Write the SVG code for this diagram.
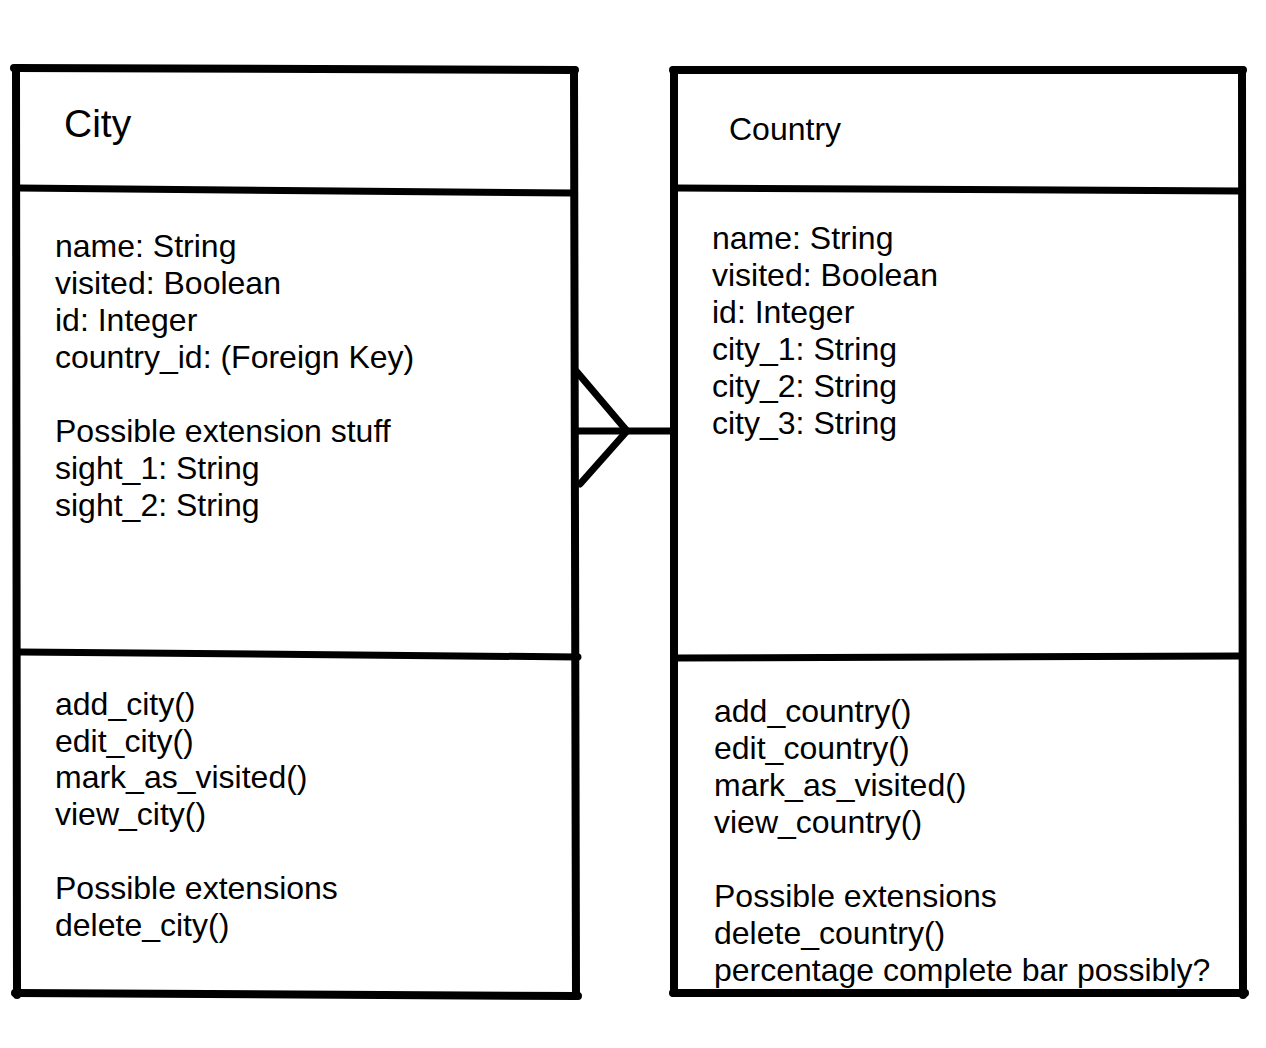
<svg xmlns="http://www.w3.org/2000/svg" width="1266" height="1048" viewBox="0 0 1266 1048">
<style>
.ln{stroke:#000;stroke-width:8;stroke-linecap:round;fill:none}
.dv{stroke:#000;stroke-width:7;stroke-linecap:round;fill:none}
.t{font-family:"Liberation Sans",Arial,Helvetica,sans-serif;font-size:32px;fill:#000}
.h{font-family:"Liberation Sans",Arial,Helvetica,sans-serif;fill:#000}
</style>
<rect width="1266" height="1048" fill="#fff"/>
<g id="city">
<path class="ln" d="M14 68 L575 70"/>
<path class="ln" d="M16 68 L17 995"/>
<path class="ln" d="M574 70 L576 996"/>
<path class="ln" d="M15 993 L578 996"/>
<path class="dv" d="M18 188 L572 193"/>
<path class="dv" d="M20 652 L578 657"/>
<text class="h" x="64" y="137" font-size="39">City</text>
<text class="t" x="55" y="257">name: String</text>
<text class="t" x="55" y="294">visited: Boolean</text>
<text class="t" x="55" y="331">id: Integer</text>
<text class="t" x="55" y="368">country_id: (Foreign Key)</text>
<text class="t" x="55" y="442">Possible extension stuff</text>
<text class="t" x="55" y="479">sight_1: String</text>
<text class="t" x="55" y="516">sight_2: String</text>
<text class="t" x="55" y="715">add_city()</text>
<text class="t" x="55" y="752">edit_city()</text>
<text class="t" x="55" y="788">mark_as_visited()</text>
<text class="t" x="55" y="825">view_city()</text>
<text class="t" x="55" y="899">Possible extensions</text>
<text class="t" x="55" y="936">delete_city()</text>
</g>
<g id="country">
<path class="ln" d="M673 70 L1243 70"/>
<path class="ln" d="M674 70 L674 993"/>
<path class="ln" d="M1242 70 L1243 995"/>
<path class="ln" d="M673 993 L1245 993"/>
<path class="dv" d="M676 188 L1240 191"/>
<path class="dv" d="M678 658 L1240 656"/>
<text class="h" x="729" y="140" font-size="32">Country</text>
<text class="t" x="712" y="249">name: String</text>
<text class="t" x="712" y="286">visited: Boolean</text>
<text class="t" x="712" y="323">id: Integer</text>
<text class="t" x="712" y="360">city_1: String</text>
<text class="t" x="712" y="397">city_2: String</text>
<text class="t" x="712" y="434">city_3: String</text>
<text class="t" x="714" y="722">add_country()</text>
<text class="t" x="714" y="759">edit_country()</text>
<text class="t" x="714" y="796">mark_as_visited()</text>
<text class="t" x="714" y="833">view_country()</text>
<text class="t" x="714" y="907">Possible extensions</text>
<text class="t" x="714" y="944">delete_country()</text>
<text class="t" x="714" y="981">percentage complete bar possibly?</text>
</g>
<g id="connectors">
<path class="dv" d="M576 431 L672 431"/>
<path class="dv" d="M577 372 L627 431 L580 484"/>
</g>
</svg>
